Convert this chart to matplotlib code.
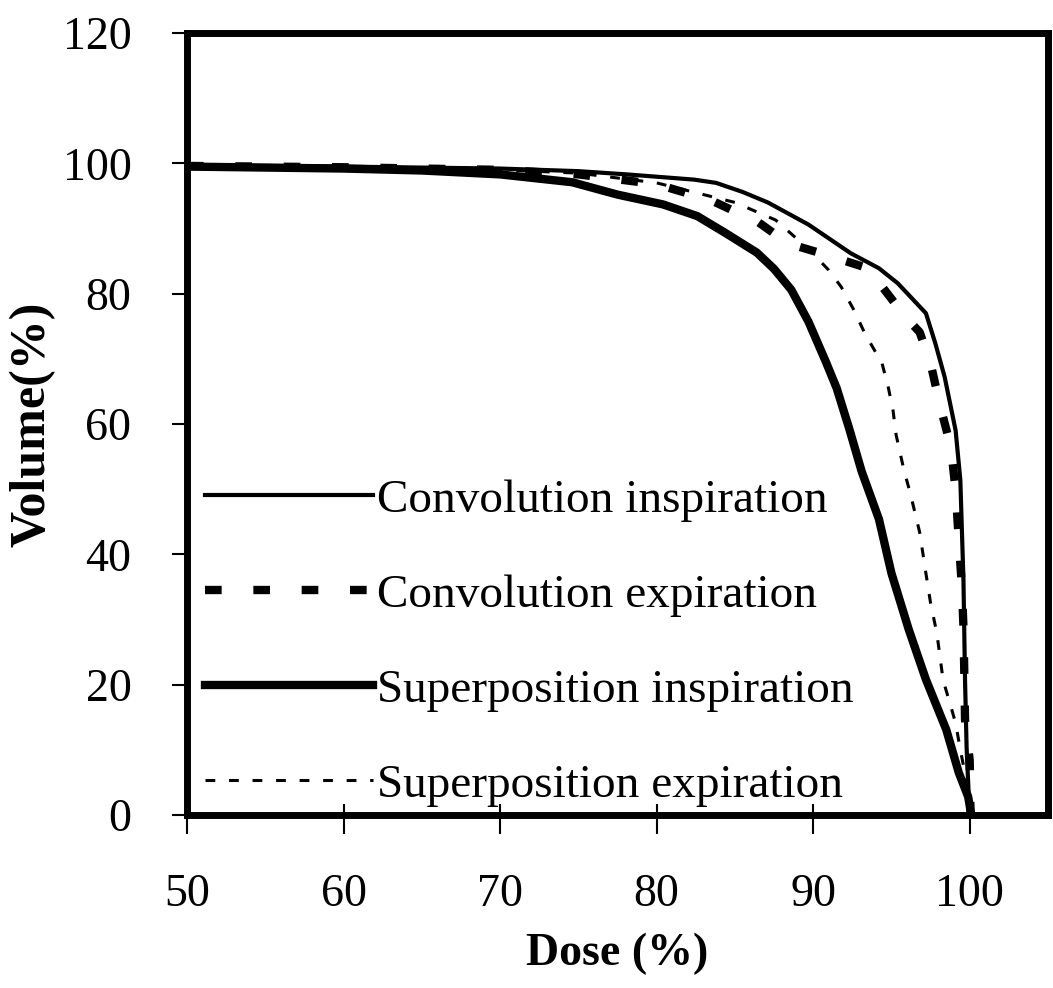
import matplotlib
matplotlib.use("Agg")
import matplotlib.pyplot as plt
from matplotlib.ticker import FixedLocator

plt.rcParams['font.family'] = ['Liberation Serif', 'DejaVu Serif']

# dose (%) and volume (%)
conv_insp_x = [50, 60, 70, 75, 78.1, 82.4, 83.8, 85.5, 87.1, 89.7, 92.4, 94.2, 95.4,
               97.2, 97.8, 98.4, 99.1, 99.4, 99.5, 99.6, 99.7, 99.8, 99.97, 100.05]
conv_insp_y = [99.7, 99.5, 99.2, 98.8, 98.3, 97.5, 97.0, 95.6, 94.0, 90.6, 86.2, 83.9, 81.6,
               77.0, 72.4, 67.2, 59.0, 51.4, 43.7, 36.0, 20.7, 10.4, 1.2, 0]

conv_exp_x = [50, 60, 70, 75, 80, 83.5, 85.1, 86.3, 88.4, 90.5, 93.5, 95.9, 96.8, 97.5,
              98.1, 98.8, 99.1, 99.3, 99.5, 99.6, 99.65, 99.7, 100.0, 100.05]
conv_exp_y = [99.6, 99.4, 99.0, 98.3, 96.8, 94.3, 92.5, 91.3, 87.7, 86.2, 83.9, 76.4, 74.1, 69.3,
              62.9, 56.4, 49.8, 42.2, 35.0, 28.8, 22.2, 14.6, 8.4, 0]

sup_insp_x = [50, 60, 65, 70, 74.6, 77.5, 80.4, 82.6, 84.4, 86.4, 87.5, 88.6, 89.7, 90.8, 91.5,
              92.3, 93.1, 94.2, 95.0, 96.1, 97.2, 98.5, 99.3, 99.9, 100.1]
sup_insp_y = [99.5, 99.2, 98.9, 98.3, 97.1, 95.2, 93.7, 91.9, 89.3, 86.3, 83.8, 80.6, 75.7, 69.6,
              65.5, 59.3, 52.7, 45.4, 37.1, 28.5, 20.8, 13.1, 6.5, 2.8, 0]

sup_exp_x = [50, 60, 70, 75, 80, 85, 87.6, 89.3, 90.2, 91.0, 91.8, 92.6, 93.3, 94.4, 94.8,
             95.1, 95.3, 95.8, 96.2, 96.8, 97.2, 97.5, 97.9, 98.3, 98.8, 99.1, 99.4, 99.7, 100.0, 100.05]
sup_exp_y = [99.6, 99.4, 99.0, 98.5, 97.0, 94.0, 91.3, 87.7, 85.6, 83.6, 81.0, 77.5, 73.9, 69.3, 65.6,
             62.1, 58.3, 52.9, 49.4, 43.4, 37.1, 32.5, 27.9, 20.7, 16.6, 14.1, 10.0, 6.4, 1.8, 0]

labels = ["Convolution inspiration", "Convolution expiration",
          "Superposition inspiration", "Superposition expiration"]
x_ticks = [50, 60, 70, 80, 90, 100]
y_ticks = [0, 20, 40, 60, 80, 100, 120]

fig = plt.figure(figsize=(10.53, 9.88), dpi=100)
ax = fig.add_axes([187/1053, 1 - 815/988, (1048 - 187)/1053, (815 - 33)/988])

l1, = ax.plot(conv_insp_x, conv_insp_y, color="black", lw=3.0, solid_joinstyle="round")
l2, = ax.plot(conv_exp_x, conv_exp_y, color="black", lw=6.0, dashes=(2.0, 3.8),
              dash_capstyle="butt")
l3, = ax.plot(sup_insp_x, sup_insp_y, color="black", lw=6.0, solid_joinstyle="round")
l4, = ax.plot(sup_exp_x, sup_exp_y, color="black", lw=2.2, dashes=(3.2, 4.5),
              dash_capstyle="butt")

ax.set_xlim(50, 105)
ax.set_ylim(0, 120)

for s in ax.spines.values():
    s.set_linewidth(5)

ax.xaxis.set_major_locator(FixedLocator(x_ticks))
ax.xaxis.set_minor_locator(FixedLocator(x_ticks))
ax.xaxis.remove_overlapping_locs = False
ax.yaxis.set_major_locator(FixedLocator(y_ticks))
ax.tick_params(axis="x", which="major", direction="out", length=14, width=1.5, pad=28,
               labelsize=33)
ax.tick_params(axis="x", which="minor", direction="in", length=8, width=1.5)
ax.tick_params(axis="y", which="major", direction="out", length=11, width=1.5, pad=29,
               labelsize=33)

ax.set_xlabel("Dose (%)", fontsize=33, fontweight="bold", va="top")
ax.xaxis.set_label_coords(0.5, -0.151)
ax.set_ylabel("Volume(%)", fontsize=36, fontweight="bold")
ax.yaxis.set_label_coords(-0.153, 0.5)

ax.legend([l1, l2, l3, l4], labels, loc="upper left", bbox_to_anchor=(0.021, 0.430),
          frameon=False, fontsize=34, handlelength=3.55, handletextpad=0.1,
          labelspacing=1.1, borderpad=0, borderaxespad=0)

plt.savefig("out.png", dpi=100)
plt.close()
